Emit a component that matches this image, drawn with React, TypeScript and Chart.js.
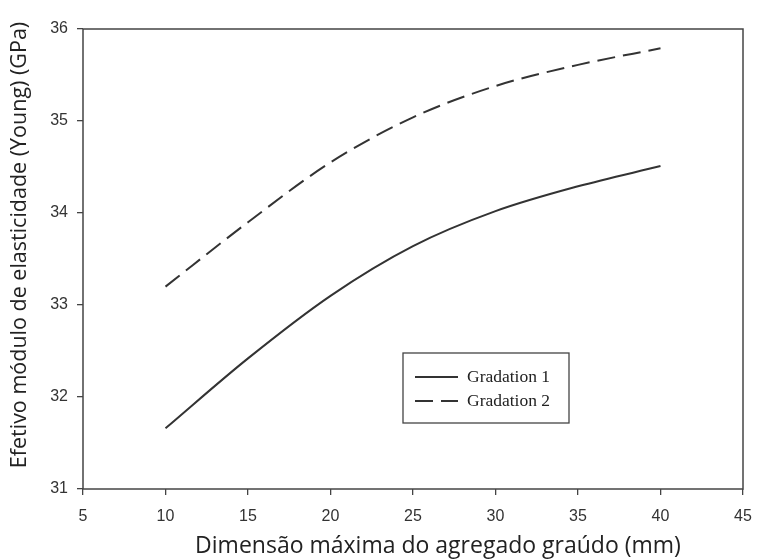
import React, { useEffect, useRef } from 'react';
import { Chart, registerables } from 'chart.js';

Chart.register(...registerables);

const xValues = [10, 15, 20, 25, 30, 35, 40];
const gradation1 = [31.66, 32.42, 33.1, 33.64, 34.02, 34.29, 34.51];
const gradation2 = [33.2, 33.9, 34.55, 35.04, 35.38, 35.61, 35.79];
const seriesLabels = ['Gradation 1', 'Gradation 2'];
const xTitle = 'Dimensão máxima do agregado graúdo (mm)';
const yTitle = 'Efetivo módulo de elasticidade (Young) (GPa)';

const LINE = '#333333';

const frameAndLegend = {
  id: 'frameAndLegend',
  afterDraw(chart: any) {
    const { ctx, chartArea } = chart;
    ctx.save();
    ctx.strokeStyle = '#444';
    ctx.lineWidth = 1.5;
    ctx.strokeRect(chartArea.left, chartArea.top, chartArea.right - chartArea.left, chartArea.bottom - chartArea.top);

    // legend box
    const bx = chartArea.left + 320;
    const by = chartArea.top + 324;
    const bw = 166;
    const bh = 70;
    ctx.lineWidth = 1.3;
    ctx.strokeStyle = '#444';
    ctx.strokeRect(bx, by, bw, bh);
    chart.data.datasets.forEach((ds: any, i: number) => {
      const ly = by + 24 + i * 24;
      ctx.beginPath();
      ctx.setLineDash(ds.borderDash || []);
      ctx.strokeStyle = LINE;
      ctx.lineWidth = 2;
      ctx.moveTo(bx + 12, ly);
      ctx.lineTo(bx + 55, ly);
      ctx.stroke();
      ctx.setLineDash([]);
      ctx.fillStyle = '#222';
      ctx.font = '17.5px "Liberation Serif", serif';
      ctx.textBaseline = 'middle';
      ctx.textAlign = 'left';
      ctx.fillText(ds.label, bx + 64, ly);
    });

    // axis titles
    ctx.fillStyle = '#222';
    ctx.textAlign = 'center';
    ctx.textBaseline = 'middle';
    ctx.font = '23px "Open Sans", sans-serif';
    ctx.fillText(xTitle, chartArea.left + 355, 546);
    ctx.save();
    ctx.translate(20, chartArea.top + 216);
    ctx.rotate(-Math.PI / 2);
    ctx.font = '21.5px "Open Sans", sans-serif';
    ctx.fillText(yTitle, 0, 0);
    ctx.restore();
    ctx.restore();
  },
};

export default function App() {
  const ref = useRef<HTMLCanvasElement | null>(null);
  useEffect(() => {
    document.body.style.margin = '0';
    const canvas = ref.current!;
    const chart = new Chart(canvas, {
      type: 'line',
      data: {
        datasets: [
          {
            label: seriesLabels[0],
            data: xValues.map((x, i) => ({ x, y: gradation1[i] })),
            borderColor: LINE,
            borderWidth: 2,
            pointRadius: 0,
            cubicInterpolationMode: 'monotone',
            fill: false,
          },
          {
            label: seriesLabels[1],
            data: xValues.map((x, i) => ({ x, y: gradation2[i] })),
            borderColor: LINE,
            borderWidth: 2,
            borderDash: [18, 8],
            pointRadius: 0,
            cubicInterpolationMode: 'monotone',
            fill: false,
          },
        ],
      },
      options: {
        animation: false,
        responsive: false,
        maintainAspectRatio: false,
        layout: { padding: { left: 0, top: 29, right: 15, bottom: 0 } },
        plugins: { legend: { display: false }, tooltip: { enabled: false } },
        scales: {
          x: {
            type: 'linear',
            min: 5,
            max: 45,
            ticks: { stepSize: 5, color: '#333', padding: 12, font: { family: '"Liberation Sans", Arial, sans-serif', size: 16 } },
            grid: { display: true, drawOnChartArea: false, drawTicks: true, tickLength: 6, color: '#444', lineWidth: 1.3 },
            border: { display: false },
            title: { display: false },
            afterFit: (s: any) => { s.height = 70; s.paddingRight = 0; s.paddingLeft = 0; },
          },
          y: {
            min: 31,
            max: 36,
            ticks: { stepSize: 1, color: '#333', padding: 9, font: { family: '"Liberation Sans", Arial, sans-serif', size: 16 } },
            grid: { display: true, drawOnChartArea: false, drawTicks: true, tickLength: 6, color: '#444', lineWidth: 1.3 },
            border: { display: false },
            title: { display: false },
            afterFit: (s: any) => { s.width = 83; s.paddingTop = 0; s.paddingBottom = 0; },
          },
        },
      },
      plugins: [frameAndLegend],
    });
    return () => chart.destroy();
  }, []);
  return <canvas ref={ref} width={758} height={559} style={{ display: 'block' }} />;
}
